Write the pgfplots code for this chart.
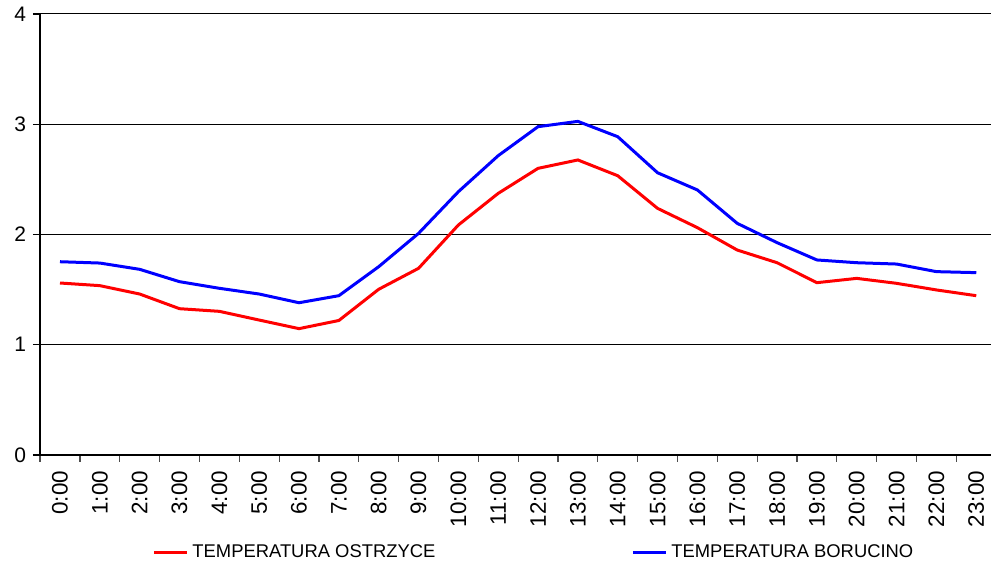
\documentclass[border=0pt]{standalone}
\usepackage{fontspec}
\setmainfont{Liberation Sans}
\usepackage{pgfplots}
\pgfplotsset{compat=1.18}

\begin{document}
\begin{tikzpicture}
\begin{axis}[
  name         = ax,
  scale only axis,
  width        = 475.5pt,
  height       = 220.5pt,
  xmin=-0.502, xmax=23.37,
  ymin=0, ymax=4,
  ytick        = {0,1,2,3,4},
  xtick        = {0,...,23},
  xticklabels  = {0:00,1:00,2:00,3:00,4:00,5:00,6:00,7:00,8:00,9:00,10:00,11:00,
                  12:00,13:00,14:00,15:00,16:00,17:00,18:00,19:00,20:00,21:00,22:00,23:00},
  minor xtick  = {-0.5,0.5,...,23.5},
  major x tick style = {draw=none},
  minor x tick style = {black!70, line width=0.6pt},
  y tick style = {black, line width=0.6pt},
  tick align   = outside,
  major tick length = 3.5pt,
  minor tick length = 3.5pt,
  axis x line* = bottom,
  axis y line* = left,
  axis line style = {black, line width=0.7pt, -},
  ymajorgrids,
  grid style   = {black, line width=0.5pt},
  xticklabel style = {rotate=90, anchor=east, font=\fontsize{11.2}{12}\selectfont, xshift=-1pt},
  yticklabel style = {font=\fontsize{10.5}{12}\selectfont},
  /pgf/number format/assume math mode=true,
  legend columns = 2,
  legend style = {at={(axis description cs:0.1178,-0.222)}, anchor=west,
                  draw=none, fill=none, inner sep=0pt,
                  font=\fontsize{9.2}{10}\selectfont,
                  /tikz/every even column/.append style={column sep=96pt}},
  legend image code/.code={\draw[#1] (0pt,0pt) -- (16.5pt,0pt);},
]

\addplot[red, line width=1.5pt] coordinates {
(0,1.56) (1,1.536) (2,1.46) (3,1.327) (4,1.303) (5,1.224) (6,1.146) (7,1.22)
(8,1.503) (9,1.693) (10,2.086) (11,2.373) (12,2.60) (13,2.676) (14,2.533)
(15,2.237) (16,2.062) (17,1.859) (18,1.744) (19,1.563) (20,1.602) (21,1.557)
(22,1.497) (23,1.445)};
\addlegendentry{TEMPERATURA OSTRZYCE}

\addplot[blue, line width=1.5pt] coordinates {
(0,1.753) (1,1.741) (2,1.684) (3,1.572) (4,1.512) (5,1.46) (6,1.381) (7,1.445)
(8,1.708) (9,2.01) (10,2.388) (11,2.715) (12,2.978) (13,3.026) (14,2.887)
(15,2.56) (16,2.404) (17,2.101) (18,1.926) (19,1.769) (20,1.744) (21,1.732)
(22,1.663) (23,1.654)};
\addlegendentry{TEMPERATURA BORUCINO}

\end{axis}
\pgfresetboundingbox
\path ([shift={(-20pt,-55pt)}]ax.south west) rectangle ([shift={(0pt,7pt)}]ax.north east);
\end{tikzpicture}
\end{document}
